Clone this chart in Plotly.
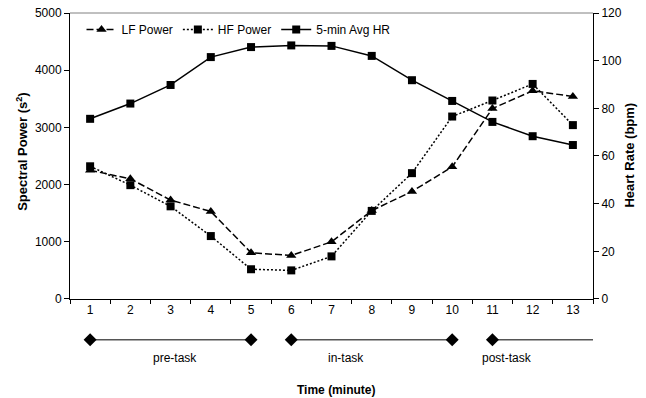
import plotly.graph_objects as go

minutes = [1, 2, 3, 4, 5, 6, 7, 8, 9, 10, 11, 12, 13]
lf_power = [2250, 2100, 1730, 1530, 810, 760, 1000, 1545, 1880, 2310, 3330, 3640, 3540]
hf_power = [2320, 1990, 1620, 1100, 520, 500, 745, 1540, 2200, 3190, 3470, 3760, 3040]
avg_hr = [75.6, 82.0, 89.8, 101.5, 105.7, 106.4, 106.2, 102.0, 91.8, 83.1, 74.3, 68.3, 64.6]

phase_names = ["pre-task", "in-task", "post-task"]
phase_start = [1, 6, 11]
phase_end = [5, 10, 13.5]
phase_end_marker = [True, True, False]

FONT = "Liberation Sans, Arial, sans-serif"

fig = go.Figure()

fig.add_trace(go.Scatter(
    x=minutes, y=lf_power, name="LF Power", mode="lines+markers",
    line=dict(color="black", width=1.5, dash="7px,3px"),
    marker=dict(symbol="triangle-up", size=9, color="black"),
    yaxis="y"))
fig.add_trace(go.Scatter(
    x=minutes, y=hf_power, name="HF Power", mode="lines+markers",
    line=dict(color="black", width=1.5, dash="2px,2px"),
    marker=dict(symbol="square", size=8, color="black"),
    yaxis="y"))
fig.add_trace(go.Scatter(
    x=minutes, y=avg_hr, name="5-min Avg HR", mode="lines+markers",
    line=dict(color="black", width=1.5),
    marker=dict(symbol="square", size=8, color="black"),
    yaxis="y2"))

PHASE_Y = 0.70
for name, s, e, em in zip(phase_names, phase_start, phase_end, phase_end_marker):
    fig.add_trace(go.Scatter(
        x=[s, e], y=[PHASE_Y, PHASE_Y], mode="lines",
        line=dict(color="#555555", width=1.5),
        showlegend=False, hoverinfo="skip", xaxis="x", yaxis="y3"))
    mx = [s, e] if em else [s]
    fig.add_trace(go.Scatter(
        x=mx, y=[PHASE_Y] * len(mx), mode="markers",
        marker=dict(symbol="diamond", size=10, color="black"),
        showlegend=False, hoverinfo="skip", xaxis="x", yaxis="y3"))

label_x = [3.1, 7.35, 11.35]
annotations = []
for name, lx in zip(phase_names, label_x):
    annotations.append(dict(x=lx, y=0.093, xref="x", yref="paper", text=name,
                            showarrow=False, font=dict(size=12, color="black", family=FONT),
                            xanchor="center", yanchor="middle"))
annotations.append(dict(x=0.5086, y=0.008, xref="paper", yref="paper",
                        text="<b>Time (minute)</b>", showarrow=False,
                        font=dict(size=12, color="black", family=FONT),
                        xanchor="center", yanchor="middle"))
annotations.append(dict(x=-0.092, y=0.637, xref="paper", yref="paper",
                        text="<b>Spectral Power (s<sup>2</sup>)</b>", textangle=-90,
                        showarrow=False, font=dict(size=13, color="black", family=FONT),
                        xanchor="center", yanchor="middle"))
annotations.append(dict(x=1.069, y=0.625, xref="paper", yref="paper",
                        text="<b>Heart Rate (bpm)</b>", textangle=-90,
                        showarrow=False, font=dict(size=13, color="black", family=FONT),
                        xanchor="center", yanchor="middle"))

fig.update_layout(
    width=646, height=398,
    margin=dict(l=70, r=53, t=13, b=5, autoexpand=False),
    paper_bgcolor="white", plot_bgcolor="white",
    font=dict(family=FONT, size=12, color="black"),
    showlegend=True,
    legend=dict(orientation="h", x=0.022, y=0.995, xanchor="left", yanchor="top",
                bgcolor="rgba(0,0,0,0)", font=dict(size=12, family=FONT),
                itemwidth=30, tracegroupgap=0),
    xaxis=dict(range=[0.5, 13.5], tickvals=minutes, ticks="", showgrid=False,
               zeroline=False, showline=True, linecolor="black", linewidth=1,
               anchor="y", tickfont=dict(size=12), automargin=False,
               minor=dict(tick0=0.5, dtick=1, ticks="outside", ticklen=4,
                          tickcolor="black", showgrid=False)),
    yaxis=dict(domain=[0.2474, 1], range=[0, 5000], dtick=1000, ticks="outside",
               ticklen=5, tickcolor="black", showgrid=False, zeroline=False,
               showline=True, linecolor="black", linewidth=1, tickfont=dict(size=12),
               automargin=False),
    yaxis2=dict(overlaying="y", side="right", range=[0, 120], dtick=20,
                ticks="outside", ticklen=5, tickcolor="black", showgrid=False,
                zeroline=False, showline=True, linecolor="black", linewidth=1,
                anchor="x", tickfont=dict(size=12), automargin=False),
    yaxis3=dict(domain=[0, 0.2], range=[0, 1], visible=False, showgrid=False,
                zeroline=False, anchor="x", automargin=False),
    shapes=[dict(type="line", xref="paper", yref="paper", x0=0, x1=1, y0=1, y1=1,
                 line=dict(color="#808080", width=1))],
    annotations=annotations,
)

fig.write_html("out.html", config={"displayModeBar": False},
               post_script="document.body.style.margin='0';")
